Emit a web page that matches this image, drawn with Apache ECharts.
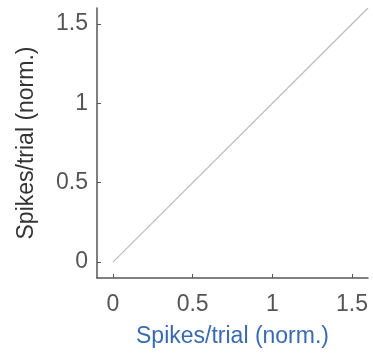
<!DOCTYPE html>
<html><head><meta charset="utf-8">
<script src="https://cdn.jsdelivr.net/npm/echarts@6/dist/echarts.min.js"></script>
<style>html,body{margin:0;padding:0;background:#fff}#c{width:373px;height:354px}</style>
</head><body><div id="c"></div>
<script>
const xTicks = [0, 0.5, 1, 1.5];
const yTicks = [0, 0.5, 1, 1.5];
const unityX = [0, 1.6];
const unityY = [0, 1.6];
const xName = 'Spikes/trial (norm.)';
const yName = 'Spikes/trial (norm.)';

const chart = echarts.init(document.getElementById('c'), null, {renderer: 'canvas'});
const font = 'Liberation Sans, Arial, sans-serif';
chart.setOption({
  animation: false,
  grid: {left: 97, right: 5, top: 8, bottom: 76},
  xAxis: {
    type: 'value', min: -0.1, max: 1.6,
    name: xName, nameLocation: 'middle', nameGap: 47,
    nameTextStyle: {color: '#3a6bb0', fontSize: 23, fontFamily: font},
    axisLine: {show: true, onZero: false, lineStyle: {color: '#555', width: 1.5}},
    axisTick: {show: true, inside: true, length: 4, customValues: xTicks, lineStyle: {color: '#555'}},
    axisLabel: {customValues: xTicks, color: '#555', fontSize: 23, fontFamily: font, margin: 15,
      formatter: v => String(v)},
    splitLine: {show: false}
  },
  yAxis: {
    type: 'value', min: -0.1, max: 1.6,
    name: yName, nameLocation: 'middle', nameGap: 59,
    nameTextStyle: {color: '#333', fontSize: 23, fontFamily: font},
    axisLine: {show: true, onZero: false, lineStyle: {color: '#555', width: 1.5}},
    axisTick: {show: true, inside: true, length: 4, customValues: yTicks, lineStyle: {color: '#555'}},
    axisLabel: {customValues: yTicks, color: '#555', fontSize: 23, fontFamily: font, margin: 9,
      formatter: v => String(v)},
    splitLine: {show: false}
  },
  series: [{
    type: 'line',
    data: unityX.map((x, i) => [x, unityY[i]]),
    showSymbol: false,
    lineStyle: {color: '#bbbbbb', width: 1.2}
  }]
});
</script></body></html>
